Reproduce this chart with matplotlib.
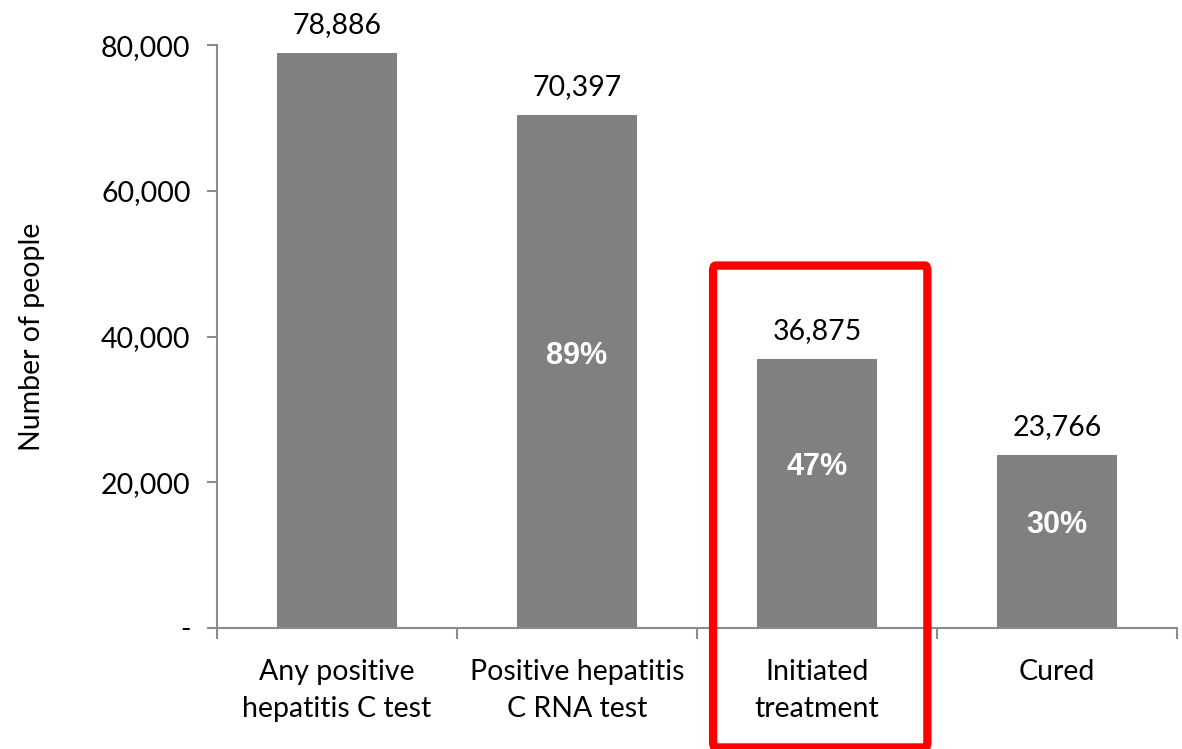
import matplotlib
matplotlib.use("Agg")
import matplotlib.pyplot as plt
from matplotlib.patches import FancyBboxPatch
import matplotlib.transforms as mtransforms

categories = ["Any positive\nhepatitis C test", "Positive hepatitis\nC RNA test",
              "Initiated\ntreatment", "Cured"]
values = [78886, 70397, 36875, 23766]
value_labels = ["78,886", "70,397", "36,875", "23,766"]
pct_labels = ["", "89%", "47%", "30%"]
pct_label_y = [0, 37300, 22100, 14150]
yticks = [0, 20000, 40000, 60000, 80000]
ytick_labels = ["-", "20,000", "40,000", "60,000", "80,000"]

FONT = "Lato"
plt.rcParams["font.family"] = [FONT, "DejaVu Sans"]
FS = 20.5

fig = plt.figure(figsize=(11.82, 7.49), dpi=100)
ax = fig.add_axes([217/1182, 1-628/749, 960/1182, (628-45.3)/749])

x = list(range(len(categories)))
ax.bar(x, values, width=0.5, color="#808080", zorder=2)
ax.set_xlim(-0.5, 3.5)
ax.set_ylim(0, 80000)

for xi, v, lab in zip(x, values, value_labels):
    ax.annotate(lab, (xi, v), xytext=(0, 11), textcoords="offset points",
                ha="center", va="bottom", fontsize=FS, color="#000000",
                annotation_clip=False)
for xi, py, lab in zip(x, pct_label_y, pct_labels):
    if lab:
        ax.text(xi, py, lab, ha="center", va="center", fontsize=22,
                fontweight="bold", color="white", family="Liberation Sans")

spine_c = "#8c8c8c"
for s in ["top", "right"]:
    ax.spines[s].set_visible(False)
ax.spines["left"].set_color(spine_c)
ax.spines["bottom"].set_color(spine_c)
ax.spines["left"].set_linewidth(1.5)
ax.spines["bottom"].set_linewidth(1.5)

ax.set_yticks(yticks)
ax.set_yticklabels(ytick_labels, fontsize=FS)
ax.tick_params(axis="y", length=7, width=1.5, color=spine_c, pad=12)

ax.set_xticks([-0.5, 0.5, 1.5, 2.5, 3.5])
ax.set_xticklabels([])
ax.set_xticks(x, minor=True)
ax.set_xticklabels(categories, minor=True, fontsize=FS, linespacing=1.55)
ax.tick_params(axis="x", which="major", length=8, width=1.5, color=spine_c, direction="out")
ax.tick_params(axis="x", which="minor", length=0, pad=22)

ax.set_ylabel("Number of people", fontsize=FS, labelpad=40)

# red highlight box around the third category
trans = mtransforms.blended_transform_factory(ax.transData, ax.transAxes)
box = FancyBboxPatch((1.567, -0.205), 2.46 - 1.567, 0.622 + 0.205,
                     boxstyle="round,pad=0,rounding_size=0.01",
                     transform=trans, fill=False, edgecolor="#ff0000",
                     linewidth=6, clip_on=False, zorder=5,
                     mutation_aspect=1)
ax.add_patch(box)

fig.savefig("out.png", dpi=100, facecolor="white")
